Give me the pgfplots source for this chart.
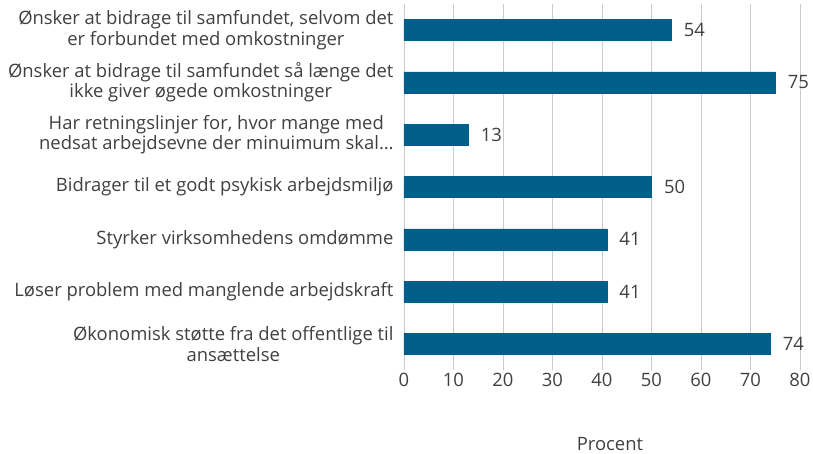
\documentclass[border=0pt]{standalone}
\usepackage{pgfplots}
\pgfplotsset{compat=1.18}
\usepackage{fontspec}
\setmainfont{Open Sans}
\definecolor{barblue}{RGB}{0,94,138}
\definecolor{txt}{RGB}{64,64,64}
\newcommand{\lblfont}{\fontsize{18.5}{20.5}\selectfont}
\begin{document}
\begin{tikzpicture}[x=1bp,y=1bp]
\begin{axis}[
  at={(0,0)}, anchor=south west,
  scale only axis, width=396bp, height=366bp,
  xbar, bar width=21bp,
  xmin=0, xmax=80, ymin=-0.5, ymax=6.5, y dir=reverse,
  xtick={0,10,...,80},
  ytick={0,...,6},
  yticklabels={{Ønsker at bidrage til samfundet, selvom det\\er forbundet med omkostninger},
    {Ønsker at bidrage til samfundet så længe det\\ikke giver øgede omkostninger},
    {Har retningslinjer for, hvor mange med\\nedsat arbejdsevne der minuimum skal…},
    {Bidrager til et godt psykisk arbejdsmiljø},
    {Styrker virksomhedens omdømme},
    {Løser problem med manglende arbejdskraft},
    {Økonomisk støtte fra det offentlige til\\ansættelse}},
  yticklabel style={align=center, font=\lblfont, text=txt, xshift=-7bp},
  xticklabel style={font=\lblfont, text=txt},
  /pgf/number format/assume math mode=true,
  major tick length=0,
  axis line style={draw=none},
  xmajorgrids, grid style={black!20, line width=0.8bp},
  nodes near coords,
  nodes near coords style={font=\lblfont, text=txt, xshift=9bp},
  xlabel={Procent},
  xlabel style={font=\lblfont, text=txt, at={(axis description cs:0.5,0)}, anchor=center, yshift=-74bp, xshift=8bp},
]
\addplot[fill=barblue, draw=barblue] coordinates {(54,0) (75,1) (13,2) (50,3) (41,4) (41,5) (74,6)};
\end{axis}
\pgfresetboundingbox
\path[use as bounding box] (-404bp,-84bp) rectangle (409bp,370bp);
\end{tikzpicture}
\end{document}
